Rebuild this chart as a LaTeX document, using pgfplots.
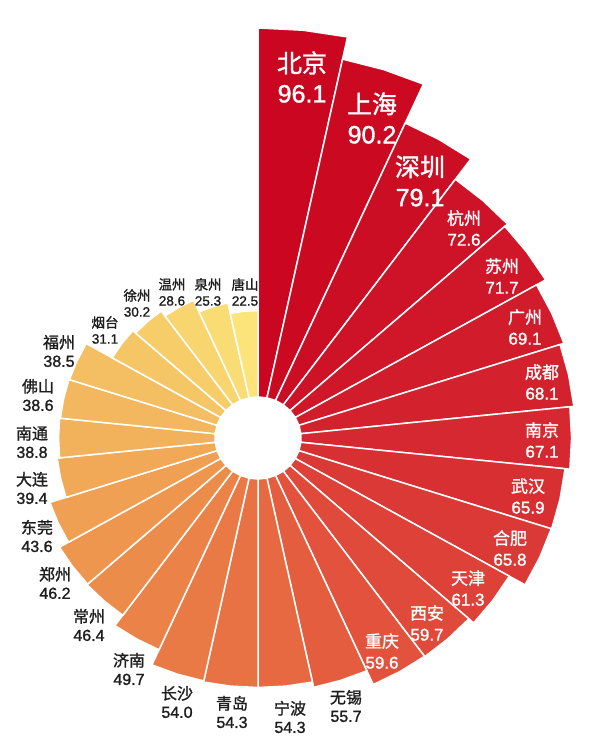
\documentclass[border=0pt]{standalone}
\usepackage{pgfplots}
\pgfplotsset{compat=1.18}
\usepackage{pgfplotstable}
\usepackage{fontspec}
\setmainfont{Noto Sans CJK SC}[FakeBold=1.3]
\newfontfamily\numf{Liberation Sans}[FakeBold=1.3]

\definecolor{bar0}{RGB}{202,6,32}
\definecolor{bar1}{RGB}{203,10,34}
\definecolor{bar2}{RGB}{204,14,36}
\definecolor{bar3}{RGB}{206,18,39}
\definecolor{bar4}{RGB}{207,23,41}
\definecolor{bar5}{RGB}{209,28,43}
\definecolor{bar6}{RGB}{211,34,45}
\definecolor{bar7}{RGB}{213,40,48}
\definecolor{bar8}{RGB}{216,48,50}
\definecolor{bar9}{RGB}{218,57,53}
\definecolor{bar10}{RGB}{221,65,55}
\definecolor{bar11}{RGB}{224,74,58}
\definecolor{bar12}{RGB}{226,82,60}
\definecolor{bar13}{RGB}{228,93,62}
\definecolor{bar14}{RGB}{230,105,65}
\definecolor{bar15}{RGB}{232,114,68}
\definecolor{bar16}{RGB}{233,122,70}
\definecolor{bar17}{RGB}{235,131,72}
\definecolor{bar18}{RGB}{236,140,75}
\definecolor{bar19}{RGB}{238,150,78}
\definecolor{bar20}{RGB}{239,160,82}
\definecolor{bar21}{RGB}{241,169,87}
\definecolor{bar22}{RGB}{242,178,92}
\definecolor{bar23}{RGB}{243,184,95}
\definecolor{bar24}{RGB}{244,190,98}
\definecolor{bar25}{RGB}{245,198,102}
\definecolor{bar26}{RGB}{246,205,105}
\definecolor{bar27}{RGB}{248,213,110}
\definecolor{bar28}{RGB}{249,220,115}
\definecolor{bar29}{RGB}{252,228,122}
\definecolor{labdark}{RGB}{30,30,30}

% values, clockwise from the top
\pgfplotstableread{
i v
0 96.1
1 90.2
2 79.1
3 72.6
4 71.7
5 69.1
6 68.1
7 67.1
8 65.9
9 65.8
10 61.3
11 59.7
12 59.6
13 55.7
14 54.3
15 54.3
16 54.0
17 49.7
18 46.4
19 46.2
20 43.6
21 39.4
22 38.8
23 38.6
24 38.5
25 31.1
26 30.2
27 28.6
28 25.3
29 22.5
}\data

% outline of one sector: a = fraction of the 12 degree step, o = 0 inner / 1 outer
\pgfplotstableread{
a o
0 0
0 1
0.5 1
1 1
1 0
}\shape

\tikzset{
  big/.style={text=white, align=center, font=\fontsize{25}{30}\selectfont},
  inl/.style={text=white, align=center, font=\fontsize{17}{21}\selectfont},
  outl/.style={text=labdark, align=center, font=\fontsize{16}{18.5}\selectfont},
  sml/.style={text=labdark, align=center, font=\fontsize{13.5}{16}\selectfont},
}

\begin{document}
\begin{tikzpicture}
\begin{axis}[name=ax, x=1pt, y=1pt, xmin=-258, xmax=342, ymin=-302, ymax=438,
  hide axis, clip=false]
\pgfplotsinvokeforeach{0,...,29}{
  \pgfplotstablegetelem{#1}{v}\of\data
  \let\val\pgfplotsretval
  \addplot[fill=bar#1, draw=white, line width=1.5pt, line join=round]
    table[x expr={1.05*(41+3.84*\thisrow{o}*\val)*cos(90-12*(#1+\thisrow{a}))},
          y expr={(41+3.84*\thisrow{o}*\val)*sin(90-12*(#1+\thisrow{a}))}] {\shape} -- cycle;
}
\node[big] at (axis cs:44,361) {北京\\{\numf 96.1}};
\node[big] at (axis cs:114,320) {上海\\{\numf 90.2}};
\node[big] at (axis cs:162,257) {深圳\\{\numf 79.1}};
\node[inl] at (axis cs:206,210) {杭州\\{\numf 72.6}};
\node[inl] at (axis cs:244,162) {苏州\\{\numf 71.7}};
\node[inl] at (axis cs:267,111) {广州\\{\numf 69.1}};
\node[inl] at (axis cs:284,56) {成都\\{\numf 68.1}};
\node[inl] at (axis cs:284,-2) {南京\\{\numf 67.1}};
\node[inl] at (axis cs:270,-58) {武汉\\{\numf 65.9}};
\node[inl] at (axis cs:252,-110) {合肥\\{\numf 65.8}};
\node[inl] at (axis cs:210,-150) {天津\\{\numf 61.3}};
\node[inl] at (axis cs:169,-185) {西安\\{\numf 59.7}};
\node[inl] at (axis cs:124,-213) {重庆\\{\numf 59.6}};
\node[outl] at (axis cs:88,-268) {无锡\\{\numf 55.7}};
\node[outl] at (axis cs:32,-279) {宁波\\{\numf 54.3}};
\node[outl] at (axis cs:-26,-274) {青岛\\{\numf 54.3}};
\node[outl] at (axis cs:-81,-264) {长沙\\{\numf 54.0}};
\node[outl] at (axis cs:-129,-231) {济南\\{\numf 49.7}};
\node[outl] at (axis cs:-169,-187) {常州\\{\numf 46.4}};
\node[outl] at (axis cs:-203,-145) {郑州\\{\numf 46.2}};
\node[outl] at (axis cs:-221,-98) {东莞\\{\numf 43.6}};
\node[outl] at (axis cs:-226,-50) {大连\\{\numf 39.4}};
\node[outl] at (axis cs:-226,-4) {南通\\{\numf 38.8}};
\node[outl] at (axis cs:-220,43) {佛山\\{\numf 38.6}};
\node[outl] at (axis cs:-199,87) {福州\\{\numf 38.5}};
\node[sml] at (axis cs:-153,108) {烟台\\{\numf 31.1}};
\node[sml] at (axis cs:-121,135) {徐州\\{\numf 30.2}};
\node[sml] at (axis cs:-86,146) {温州\\{\numf 28.6}};
\node[sml] at (axis cs:-50,146) {泉州\\{\numf 25.3}};
\node[sml] at (axis cs:-13,146) {唐山\\{\numf 22.5}};
\end{axis}
\pgfresetboundingbox
\path (ax.south west) rectangle (ax.north east);
\end{tikzpicture}
\end{document}
